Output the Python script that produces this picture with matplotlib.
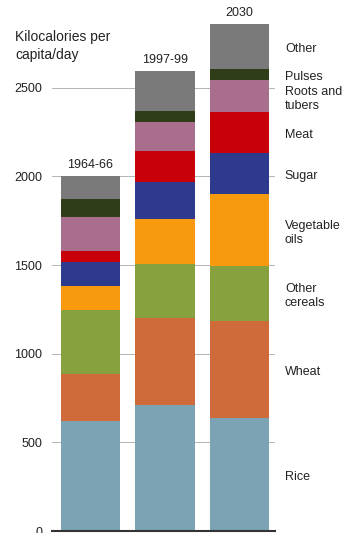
import numpy as np
import matplotlib
matplotlib.use('Agg')
import matplotlib.pyplot as plt

plt.rcParams['font.family'] = ['Liberation Sans', 'DejaVu Sans']

periods = ['1964-66', '1997-99', '2030']
categories = ['Rice', 'Wheat', 'Other\ncereals', 'Vegetable\noils', 'Sugar',
              'Meat', 'Roots and\ntubers', 'Pulses', 'Other']

# kcal per capita per day
rice = [620, 713, 639]
wheat = [268, 487, 548]
other_cereals = [361, 306, 306]
veg_oils = [131, 256, 406]
sugar = [138, 206, 234]
meat = [62, 174, 228]
roots = [191, 163, 180]
pulses = [104, 66, 64]
other = [125, 225, 253]

colors = ['#7ba3b3', '#cf6b3a', '#86a13e', '#f89a0e', '#2d3a8e',
          '#c8000a', '#a86e8c', '#2f3d18', '#7a7a7a']

series = [rice, wheat, other_cereals, veg_oils, sugar, meat, roots, pulses, other]

fig = plt.figure(figsize=(3.42, 5.33), dpi=100)
ax = fig.add_axes([52/342, 2/533, 223/342, 531/533])

x = np.arange(len(periods))
bottom = np.zeros(len(periods))
for vals, c in zip(series, colors):
    ax.bar(x, vals, width=0.8, bottom=bottom, color=c, zorder=2)
    bottom += np.array(vals)

# period labels above bars
for xi, top, lab in zip(x, bottom, periods):
    ax.annotate(lab, (xi, top), xytext=(0, 8), textcoords='offset points',
                ha='center', va='center', fontsize=9, color='#222222')

# category labels right of last bar
mids = np.cumsum(np.array(series)[:, -1]) - np.array(series)[:, -1] / 2
for m, lab in zip(mids, categories):
    ax.text(2.61, m - 15, lab, ha='left', va='center', fontsize=9,
            color='#222222', clip_on=False, linespacing=1.2)

ax.set_xlim(-0.517, 2.477)
ax.set_ylim(0, 2995)
ax.set_yticks([0, 500, 1000, 1500, 2000, 2500])
ax.tick_params(axis='y', length=0, pad=7, labelsize=9, labelcolor='#222222')
ax.tick_params(axis='x', length=0, labelbottom=False)
ax.grid(axis='y', color='#b4b4b4', lw=0.7, zorder=0)
ax.set_axisbelow(True)
for s in ['top', 'right', 'left']:
    ax.spines[s].set_visible(False)
ax.spines['bottom'].set_color('#333333')
ax.spines['bottom'].set_linewidth(1.5)

fig.text(15/342, 1 - 46/533, 'Kilocalories per\ncapita/day', ha='left', va='center',
         fontsize=10, color='#222222', linespacing=1.35)

fig.savefig('out.png', dpi=100)
